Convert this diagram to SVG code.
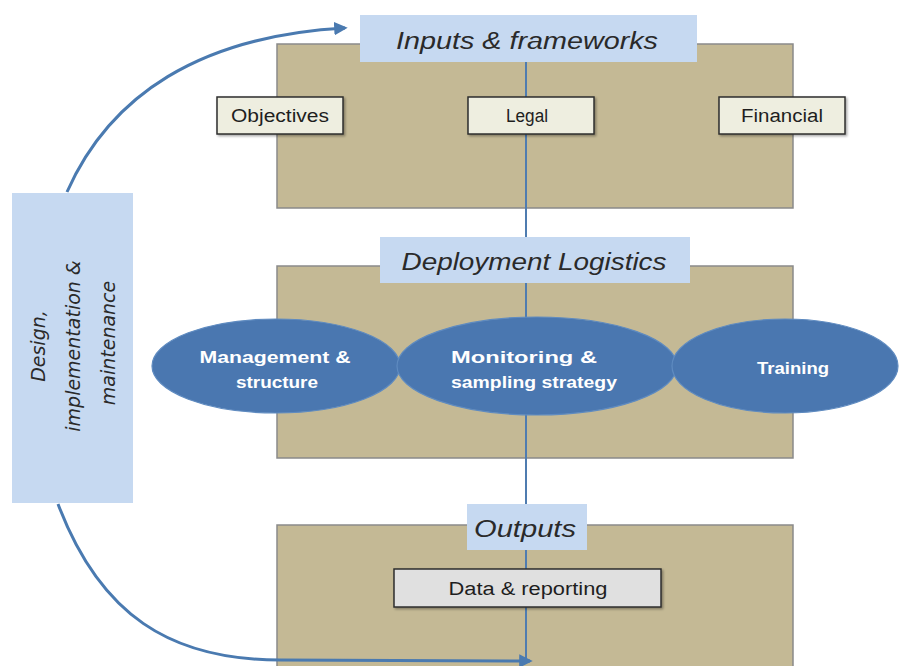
<svg xmlns="http://www.w3.org/2000/svg" width="909" height="666" viewBox="0 0 909 666">
<defs>
<style>
.panel{fill:#c4b995;stroke:#8a8a8a;stroke-width:1.5}
.label{fill:#c6d9f1}
.ltext{font-family:"Liberation Sans",Arial,sans-serif;font-style:italic;fill:#2a2a2a;text-anchor:middle}
.box{fill:#eeeee0;stroke:#2e2e2e;stroke-width:1.5}
.btext{font-family:"Liberation Sans",Arial,sans-serif;font-size:18px;fill:#1e1e1e;text-anchor:middle}
.ell{fill:#4a77b0;stroke:#5f8bc0;stroke-width:1.2}
.etext{font-family:"Liberation Sans",Arial,sans-serif;font-weight:bold;font-size:17px;fill:#ffffff;text-anchor:middle}
.conn{fill:none;stroke:#4a7ab0;stroke-width:3}
.vline{stroke:#4f7cb0;stroke-width:2}
</style>
<marker id="arr" viewBox="0 0 10 10" refX="8" refY="5" markerWidth="4.5" markerHeight="4.5" orient="auto" markerUnits="strokeWidth">
<path d="M0,0 L10,5 L0,10 z" fill="#4a7ab0"/>
</marker>
<filter id="sh" x="-10%" y="-10%" width="130%" height="140%">
<feDropShadow dx="1.5" dy="1.5" stdDeviation="1" flood-color="#000" flood-opacity="0.35"/>
</filter>
</defs>
<rect width="909" height="666" fill="#ffffff"/>

<g id="panel-inputs"><rect class="panel" x="277" y="44" width="516" height="164"/></g>
<g id="panel-deployment"><rect class="panel" x="277" y="266" width="516" height="192"/></g>
<g id="panel-outputs"><rect class="panel" x="277" y="525" width="516" height="145"/></g>

<g id="connectors">
<line class="vline" x1="526" y1="62" x2="526" y2="660"/>
<path class="conn" d="M67,192 C110,95 200,36 345,28" marker-end="url(#arr)"/>
<path class="conn" d="M58,504 C100,615 170,660 280,660 L530,661" marker-end="url(#arr)"/>
</g>

<g id="label-inputs">
<rect class="label" x="360" y="15" width="337" height="47"/>
<text class="ltext" x="527" y="49" font-size="23" textLength="262" lengthAdjust="spacingAndGlyphs">Inputs &amp; frameworks</text>
</g>
<g id="objectives">
<rect class="box" x="217" y="97" width="126" height="37" filter="url(#sh)"/>
<text class="btext" x="280" y="122" textLength="98" lengthAdjust="spacingAndGlyphs">Objectives</text>
</g>
<g id="legal">
<rect class="box" x="468" y="97" width="126" height="37" filter="url(#sh)"/>
<text class="btext" x="527" y="122" textLength="42" lengthAdjust="spacingAndGlyphs">Legal</text>
</g>
<g id="financial">
<rect class="box" x="719" y="97" width="126" height="37" filter="url(#sh)"/>
<text class="btext" x="782" y="122" textLength="82" lengthAdjust="spacingAndGlyphs">Financial</text>
</g>

<g id="label-deployment">
<rect class="label" x="380" y="237" width="310" height="46"/>
<text class="ltext" x="534" y="270" font-size="23" textLength="265" lengthAdjust="spacingAndGlyphs">Deployment Logistics</text>
</g>
<g id="management">
<ellipse class="ell" cx="276" cy="366" rx="124" ry="47"/>
<text class="etext" x="275" y="363" textLength="151" lengthAdjust="spacingAndGlyphs">Management &amp;</text>
<text class="etext" x="277" y="388" textLength="82" lengthAdjust="spacingAndGlyphs">structure</text>
</g>
<g id="monitoring">
<ellipse class="ell" cx="537" cy="366" rx="140" ry="49"/>
<text class="etext" x="524" y="363" textLength="146" lengthAdjust="spacingAndGlyphs">Monitoring &amp;</text>
<text class="etext" x="534" y="388" textLength="166" lengthAdjust="spacingAndGlyphs">sampling strategy</text>
</g>
<g id="training">
<ellipse class="ell" cx="785" cy="366" rx="113" ry="47"/>
<text class="etext" x="793" y="374" textLength="72" lengthAdjust="spacingAndGlyphs">Training</text>
</g>

<g id="label-outputs">
<rect class="label" x="467" y="504" width="120" height="46"/>
<text class="ltext" x="525" y="537" font-size="23" textLength="102" lengthAdjust="spacingAndGlyphs">Outputs</text>
</g>
<g id="data-reporting">
<rect class="box" x="394" y="569" width="267" height="38" style="fill:#e0e0e0" filter="url(#sh)"/>
<text class="btext" x="528" y="595" textLength="159" lengthAdjust="spacingAndGlyphs">Data &amp; reporting</text>
</g>

<g id="design">
<rect class="label" x="12" y="193" width="121" height="310"/>
<text font-family="DejaVu Sans,Verdana,sans-serif" font-style="italic" font-size="19" fill="#2a2a2a" text-anchor="middle" transform="translate(0,343) rotate(-90)">
<tspan x="0" y="45">Design,</tspan>
<tspan x="0" y="80">implementation &amp;</tspan>
<tspan x="0" y="115">maintenance</tspan>
</text>
</g>
</svg>
